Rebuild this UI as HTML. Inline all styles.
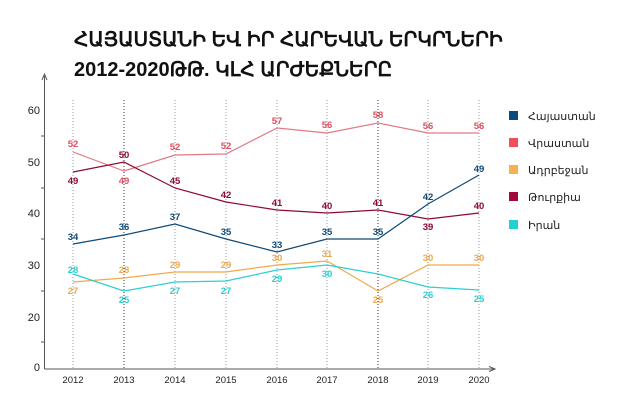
<!DOCTYPE html><html><head><style>body{margin:0;background:#fff}svg{display:block}text{font-family:"Liberation Sans",sans-serif}</style></head><body>
<svg width="640" height="406" viewBox="0 0 640 406">
<text x="74" y="46" font-size="20" font-weight="bold" fill="#111">ՀԱՅԱՍՏԱՆԻ ԵՎ ԻՐ ՀԱՐԵՎԱՆ ԵՐԿՐՆԵՐԻ</text>
<text x="74" y="76" font-size="20" font-weight="bold" fill="#111">2012-2020ԹԹ. ԿԼՀ ԱՐԺԵՔՆԵՐԸ</text>
<g stroke="#555" stroke-width="1" fill="none">
<line x1="44.5" y1="76" x2="44.5" y2="369"/><line x1="44.5" y1="369" x2="494" y2="369"/>
<path d="M42 80 L44.5 74 L47 80" /><path d="M489 366.5 L495 369 L489 371.5"/>
</g>
<g stroke="#999" stroke-dasharray="1,2">
<line x1="73" y1="100" x2="73" y2="369"/><line x1="175" y1="100" x2="175" y2="369"/><line x1="226" y1="100" x2="226" y2="369"/><line x1="277" y1="100" x2="277" y2="369"/><line x1="327" y1="100" x2="327" y2="369"/><line x1="428" y1="100" x2="428" y2="369"/><line x1="479" y1="100" x2="479" y2="369"/>
</g>
<g stroke="#333" stroke-dasharray="1,2"><line x1="124" y1="100" x2="124" y2="369"/><line x1="378" y1="100" x2="378" y2="369"/></g>
<g font-size="11" fill="#222" text-anchor="end">
<text x="40" y="114">60</text><text x="40" y="166">50</text><text x="40" y="217">40</text><text x="40" y="269">30</text><text x="40" y="321">20</text><text x="40" y="371">0</text>
</g>
<g stroke="#555"><line x1="41" y1="136" x2="44" y2="136"/><line x1="41" y1="188" x2="44" y2="188"/><line x1="41" y1="239" x2="44" y2="239"/><line x1="41" y1="291" x2="44" y2="291"/><line x1="41" y1="342" x2="44" y2="342"/></g>
<g font-size="9.5" fill="#222" text-anchor="middle">
<text x="73" y="383">2012</text><text x="124" y="383">2013</text><text x="175" y="383">2014</text><text x="226" y="383">2015</text><text x="277" y="383">2016</text><text x="327" y="383">2017</text><text x="378" y="383">2018</text><text x="428" y="383">2019</text><text x="479" y="383">2020</text>
</g>
<g fill="none" stroke-width="1.2">
<polyline stroke="#e07a86" points="73,152 124,171 175,155 226,154 277,128 327,133 378,123 428,133 479,133"/>
<polyline stroke="#8e0a36" points="73,172 124,162 175,188 226,202 277,210 327,213 378,210 428,219 479,213"/>
<polyline stroke="#0f4a78" points="73,244 124,235 175,224 226,239 277,252 327,239 378,239 428,204 479,175"/>
<polyline stroke="#f0a94a" points="73,282 124,278 175,272 226,272 277,265 327,261 378,291 428,265 479,265"/>
<polyline stroke="#2ccfd2" points="73,274 124,291 175,282 226,281 277,270 327,265 378,274 428,287 479,290"/>
</g>
<g font-size="9.5" font-weight="bold" text-anchor="middle">
<g fill="#e05060"><text x="73" y="147">52</text><text x="124" y="184">49</text><text x="175" y="150">52</text><text x="226" y="149">52</text><text x="277" y="124">57</text><text x="327" y="128">56</text><text x="378" y="118">58</text><text x="428" y="129">56</text><text x="479" y="129">56</text></g>
<g fill="#8e0a36"><text x="73" y="184">49</text><text x="124" y="158">50</text><text x="175" y="184">45</text><text x="226" y="198">42</text><text x="277" y="206">41</text><text x="327" y="209">40</text><text x="378" y="206">41</text><text x="428" y="230">39</text><text x="479" y="209">40</text></g>
<g fill="#0f4a78"><text x="73" y="240">34</text><text x="124" y="230">36</text><text x="175" y="220">37</text><text x="226" y="235">35</text><text x="277" y="248">33</text><text x="327" y="235">35</text><text x="378" y="235">35</text><text x="428" y="200">42</text><text x="479" y="172">49</text></g>
<g fill="#f0a94a"><text x="73" y="294">27</text><text x="124" y="273">28</text><text x="175" y="268">29</text><text x="226" y="268">29</text><text x="277" y="261">30</text><text x="327" y="257">31</text><text x="378" y="303">25</text><text x="428" y="261">30</text><text x="479" y="261">30</text></g>
<g fill="#2ccfd2"><text x="73" y="273">28</text><text x="124" y="303">25</text><text x="175" y="294">27</text><text x="226" y="294">27</text><text x="277" y="282">29</text><text x="327" y="277">30</text><text x="428" y="298">26</text><text x="479" y="302">25</text></g>
</g>
<g font-size="11" fill="#222">
<rect x="509" y="111" width="9" height="9" fill="#0f4a78"/><text x="528" y="120">Հայաստան</text>
<rect x="509" y="138" width="9" height="9" fill="#f0505a"/><text x="528" y="147">Վրաստան</text>
<rect x="509" y="165" width="9" height="9" fill="#f8b050"/><text x="528" y="174">Ադրբեջան</text>
<rect x="509" y="192" width="9" height="9" fill="#a00a3c"/><text x="528" y="201">Թուրքիա</text>
<rect x="509" y="220" width="9" height="9" fill="#20d0d5"/><text x="528" y="229">Իրան</text>
</g>
</svg></body></html>
